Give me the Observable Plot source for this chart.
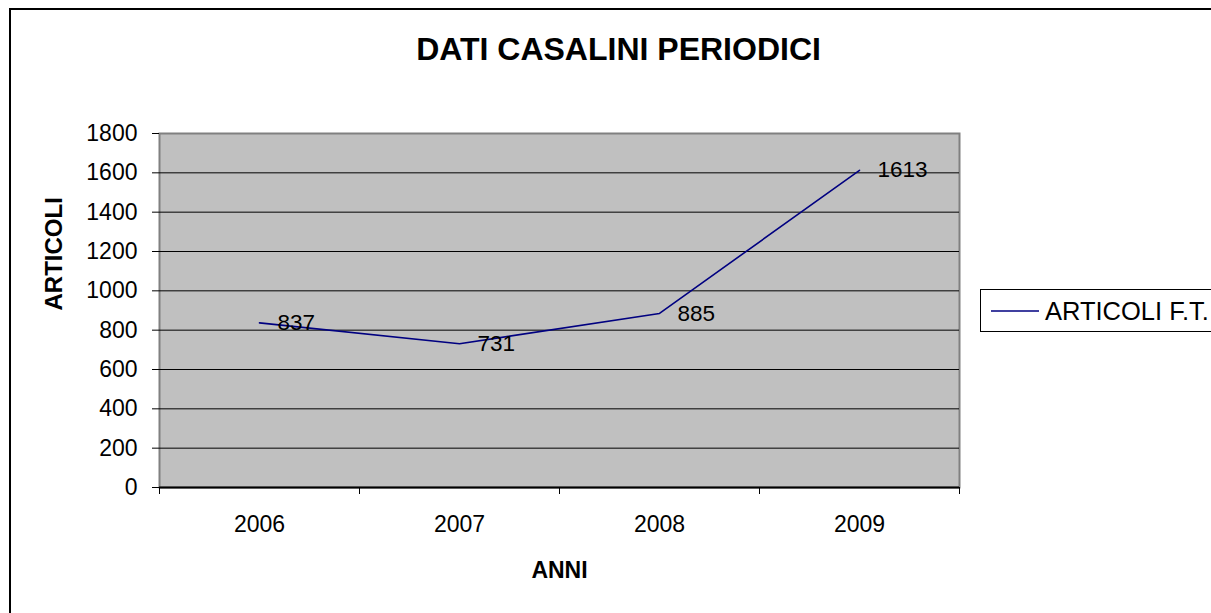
<!DOCTYPE html>
<html><head><meta charset="utf-8">
<script src="https://cdn.jsdelivr.net/npm/d3@7"></script>
<script src="https://cdn.jsdelivr.net/npm/@observablehq/plot@0.6"></script>
<style>body{margin:0;background:#fff;overflow:hidden}</style>
</head><body><div id="chart"></div>
<script>
const years = [2006, 2007, 2008, 2009];
const articoli = [837, 731, 885, 1613];
const yTicks = [0, 200, 400, 600, 800, 1000, 1200, 1400, 1600, 1800];
const seriesName = "ARTICOLI F.T.";
const titleText = "DATI CASALINI PERIODICI";
const xLabel = "ANNI";
const yLabel = "ARTICOLI";

const data = years.map((year, i) => ({year, value: articoli[i]}));
const bounds = [years[0] - 0.5, ...years.map(y => y + 0.5)];
const FONT = "'Liberation Sans', Arial, Helvetica, sans-serif";

const chart = Plot.plot({
  width: 1211, height: 613,
  marginLeft: 159, marginRight: 252, marginTop: 133, marginBottom: 126,
  style: {fontFamily: FONT, fontSize: "22px", color: "#000", background: "#fff", overflow: "visible"},
  x: {type: "linear", domain: [bounds[0], bounds[bounds.length - 1]]},
  y: {domain: [0, 1800]},
  marks: [
    Plot.frame({fill: "#C0C0C0", stroke: "#808080", strokeWidth: 2}),
    Plot.ruleY(yTicks.slice(1, -1), {stroke: "#000", strokeWidth: 1}),
    Plot.ruleY([0], {stroke: "#000", strokeWidth: 2}),
    Plot.axisY({ticks: yTicks, tickSize: 7, tickPadding: 15, tickFormat: d => String(d), label: null, fontSize: 23, stroke: "#000"}),
    Plot.axisX({ticks: years, tickSize: 0, tickPadding: 28, tickFormat: d => String(d), label: null, fontSize: 23}),
    Plot.axisX({ticks: bounds, tickSize: 7, tickFormat: () => "", label: null, stroke: "#000"}),
    Plot.line(data, {x: "year", y: "value", stroke: "#000080", strokeWidth: 1.6}),
    Plot.text(data, {x: "year", y: "value", text: d => String(d.value), dx: 18, textAnchor: "start", lineAnchor: "middle", fontSize: 22.5, fill: "#000"}),
    Plot.text([titleText], {frameAnchor: "top", dx: 59, dy: -84, lineAnchor: "middle", fontSize: 32, fontWeight: "bold", fill: "#000"}),
    Plot.text([xLabel], {frameAnchor: "bottom", dy: 83, lineAnchor: "middle", fontSize: 23, fontWeight: "bold", fill: "#000"}),
    Plot.text([yLabel], {frameAnchor: "left", dx: -105, rotate: -90, lineAnchor: "middle", fontSize: 24, fontWeight: "bold", fill: "#000"})
  ]
});

document.getElementById("chart").appendChild(chart);

const svg = d3.select(chart);
// outer chart border
svg.append("rect").attr("x", 10).attr("y", 9).attr("width", 1240).attr("height", 640)
  .attr("fill", "none").attr("stroke", "#000").attr("stroke-width", 2);
// legend
const lg = svg.append("g");
lg.append("rect").attr("x", 980.5).attr("y", 289.5).attr("width", 260).attr("height", 42)
  .attr("fill", "#fff").attr("stroke", "#000").attr("stroke-width", 1);
lg.append("line").attr("x1", 991).attr("x2", 1039).attr("y1", 311).attr("y2", 311)
  .attr("stroke", "#000080").attr("stroke-width", 1.6);
lg.append("text").attr("x", 1045).attr("y", 311).attr("dy", "0.35em")
  .attr("text-anchor", "start")
  .style("font-family", FONT).style("font-size", "25.5px").attr("fill", "#000").text(seriesName);
</script>
</body></html>
